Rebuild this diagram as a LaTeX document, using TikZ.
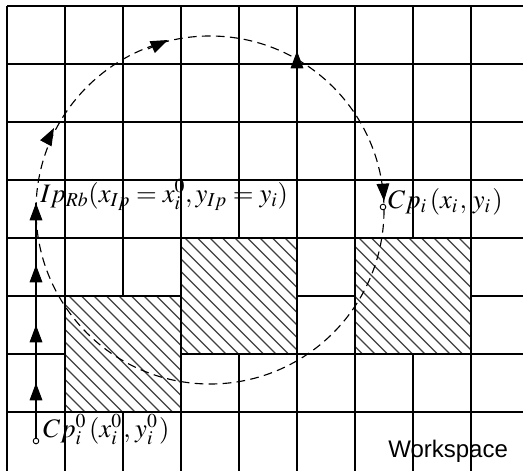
\documentclass[tikz,border=0pt]{standalone}
\usepackage[no-math]{fontspec}
\usepackage{mathptmx}
\setsansfont{Liberation Sans}
\usetikzlibrary{arrows.meta}
\begin{document}
\begin{tikzpicture}[x=0.75pt,y=-0.75pt,
  gridline/.style={line width=1pt},
  hatchline/.style={black!75,line width=0.9pt},
  loopline/.style={dash pattern=on 6.5pt off 4pt, line width=0.85pt},
  arrowtip/.style={line width=0.8pt,-{Triangle[length=13pt,width=9.5pt]}},
  lbl/.style={anchor=base west, inner sep=0pt, font=\fontsize{20}{24}\selectfont},
  marker/.style={fill=white, line width=0.7pt}]
\useasboundingbox (0,0) rectangle (523,470);
\clip (0,0) rectangle (523,470);
% hatched obstacles
\foreach \xa/\ya in {181/238, 355/238, 65/296}{
  \begin{scope}
    \clip (\xa,\ya) rectangle ++(116,116);
    \foreach \k in {-11,...,11}
      \draw[hatchline] ({\xa+4+12.5*\k},\ya) -- ++(130,130);
  \end{scope}
}
% grid
\foreach \yy in {6,64,122,180,238,412}
  \draw[gridline] (7,\yy) -- (530,\yy);
\draw[gridline] (7,296) -- (181,296) (297,296) -- (355,296) (471,296) -- (530,296);
\draw[gridline] (7,354) -- (65,354) (181,354) -- (530,354);
\foreach \xx in {7,65,181,297,355,471}
  \draw[gridline] (\xx,6) -- (\xx,475);
\draw[gridline] (123,6) -- (123,296) (123,412) -- (123,475);
\draw[gridline] (239,6) -- (239,238) (239,354) -- (239,475);
\draw[gridline] (413,6) -- (413,238) (413,354) -- (413,475);
% points
\coordinate (c) at (210,210);
\coordinate (cp0) at (36,441);
\coordinate (ip) at (36,203);
\coordinate (cpi) at (383,207);
% dashed loop
\draw[loopline] (c) circle[radius=174];
\draw[arrowtip] (46,143) -- (54,128);
\draw[arrowtip] (148,49) -- (168,40);
\draw[arrowtip] (297,65) -- (297,51);
\draw[arrowtip] (383,185) -- (384,201);
% vertical climb
\draw[line width=0.8pt] (cp0) -- (ip);
\draw[arrowtip] (36,400) -- (36,383);
\draw[arrowtip] (36,342) -- (36,325);
\draw[arrowtip] (36,282) -- (36,265);
\draw[arrowtip] (36,220) -- (ip);
\draw[marker] (cp0) circle[radius=2.8];
\draw[marker] (cpi) circle[radius=2.8];
% labels
\node[lbl] (iplbl) at (40,202) {$Ip_{Rb}(x_{Ip}=x_i^0,y_{Ip}=y_i)$};
\node[lbl] (cpilbl) at (388,208) {$Cp_{i}\mkern2mu(x_{i}\mkern1mu,\mkern2mu y_{i}\mkern1mu)$};
\node[lbl] (cp0lbl) at (43,437) {$Cp_i^0\mkern2mu(x_i^0\mkern1mu,\mkern1mu y_i^0\mkern1mu)$};
\node[anchor=base west, inner sep=0pt, font=\sffamily\fontsize{18}{20}\selectfont] (ws) at (388,457) {Workspace};
\end{tikzpicture}
\end{document}
